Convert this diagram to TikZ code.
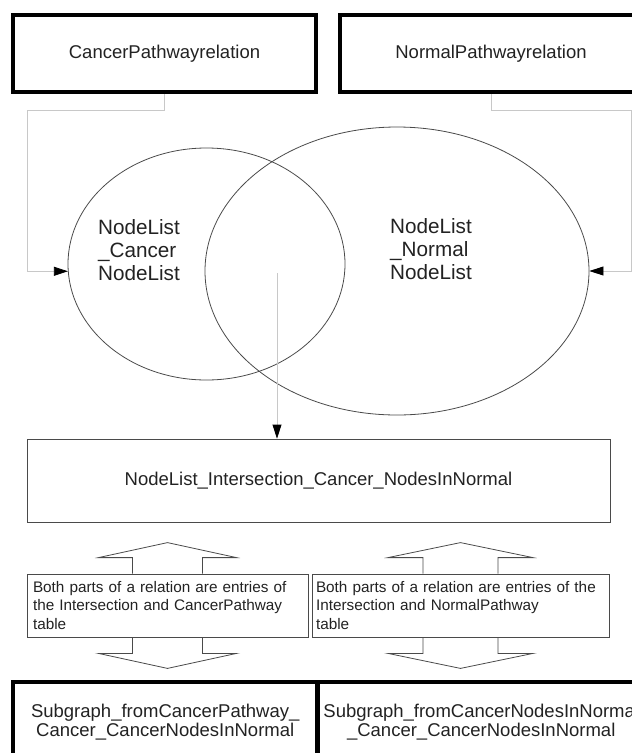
\documentclass[tikz,border=0pt]{standalone}
\usepackage{fontspec}
\setmainfont{Liberation Sans}
\usetikzlibrary{arrows.meta,shapes.geometric}
\definecolor{inkgray}{HTML}{222222}
\definecolor{edgegray}{HTML}{4A4A4A}
\definecolor{wiregray}{HTML}{C8C8C8}
\begin{document}
\begin{tikzpicture}[x=1pt,y=-1pt,
  every node/.style={text=inkgray},
  heavybox/.style={draw=black,line width=4pt,rectangle,inner sep=0pt,
    align=center,font=\fontsize{18.5}{19.5}\selectfont},
  venn/.style={draw=edgegray,line width=0.8pt,ellipse,inner sep=0pt},
  vennlabel/.style={align=left,inner sep=0pt,font=\fontsize{20.7}{23}\selectfont},
  listbox/.style={draw=edgegray,line width=0.8pt,rectangle,inner sep=0pt,
    font=\fontsize{18.5}{20}\selectfont},
  notebox/.style={draw=edgegray,line width=0.8pt,rectangle,align=left,
    inner ysep=0pt,minimum height=63pt,font=\fontsize{15.3}{18.5}\selectfont},
  blockarrow/.style={draw=edgegray,line width=0.8pt,line join=miter},
  conn/.style={draw=wiregray,line width=0.8pt,
    -{Triangle[length=14pt,width=9pt,color=black]}}]
\useasboundingbox (0,0) rectangle (632,753);
\clip (0,0) rectangle (632,753);

% source relations
\node[heavybox,minimum width=303pt,minimum height=77pt] (topL) at (164.5,53.5) {CancerPathwayrelation};
\node[heavybox,minimum width=302pt,minimum height=77pt] (topR) at (491,53.5) {NormalPathwayrelation};

% node lists as overlapping sets
\node[venn,minimum width=277pt,minimum height=232pt] (cL) at (206.5,264) {};
\node[venn,minimum width=384pt,minimum height=288pt] (cR) at (397,271) {};
\node[vennlabel] (tL) at (139,250) {NodeList\\\_Cancer\\NodeList};
\node[vennlabel] (tR) at (431,249) {NodeList\\\_Normal\\NodeList};

% intersection result
\node[listbox,minimum width=583pt,minimum height=83pt] (mid) at (318.5,480.5) {NodeList\_Intersection\_Cancer\_NodesInNormal};

% filter conditions
\node[notebox,minimum width=281pt,text width=269pt,inner xsep=6pt] (nL) at (167.5,605.5)
  {Both parts of a relation are entries of\\the Intersection and CancerPathway\\table};
\node[notebox,minimum width=297pt,text width=289pt,inner xsep=4pt] (nR) at (460.5,605.5)
  {Both parts of a relation are entries of the\\Intersection and NormalPathway\\table};

% resulting subgraphs
\node[heavybox,line width=4.5pt,minimum width=304.5pt,minimum height=80pt] (sL) at (165.25,722)
  {Subgraph\_fromCancerPathway\_\\Cancer\_CancerNodesInNormal};
\node[heavybox,line width=4.5pt,minimum width=327.5pt,minimum height=80pt] (sR) at (481.25,722)
  {Subgraph\_fromCancerNodesInNormal\\\_Cancer\_CancerNodesInNormal};

% connectors
\coordinate (bendL) at (27,110);
\coordinate (bendR) at (631,110);
\coordinate (isect) at (277,273);
\draw[conn] (topL.south) |- (bendL) |- (cL.183);
\draw[conn] (topR.south) |- (bendR) |- (cR.east);
\draw[conn] (isect) -- (isect |- mid.north);

% double block arrows through the condition boxes
\draw[blockarrow] (nL.north) ++(-35,0) -- ++(0,-16) -- ++(-34,0) -- ++(69,-15) -- ++(69,15) -- ++(-34,0) -- ++(0,16);
\draw[blockarrow] (nL.south) ++(-35,0) -- ++(0,16) -- ++(-34,0) -- ++(69,15) -- ++(69,-15) -- ++(-34,0) -- ++(0,-16);
\draw[blockarrow] (nR.north) ++(-37.5,0) -- ++(0,-16) -- ++(-35,0) -- ++(72.5,-15) -- ++(72.5,15) -- ++(-35,0) -- ++(0,16);
\draw[blockarrow] (nR.south) ++(-37.5,0) -- ++(0,16) -- ++(-35,0) -- ++(72.5,15) -- ++(72.5,-15) -- ++(-35,0) -- ++(0,-16);
\end{tikzpicture}
\end{document}
